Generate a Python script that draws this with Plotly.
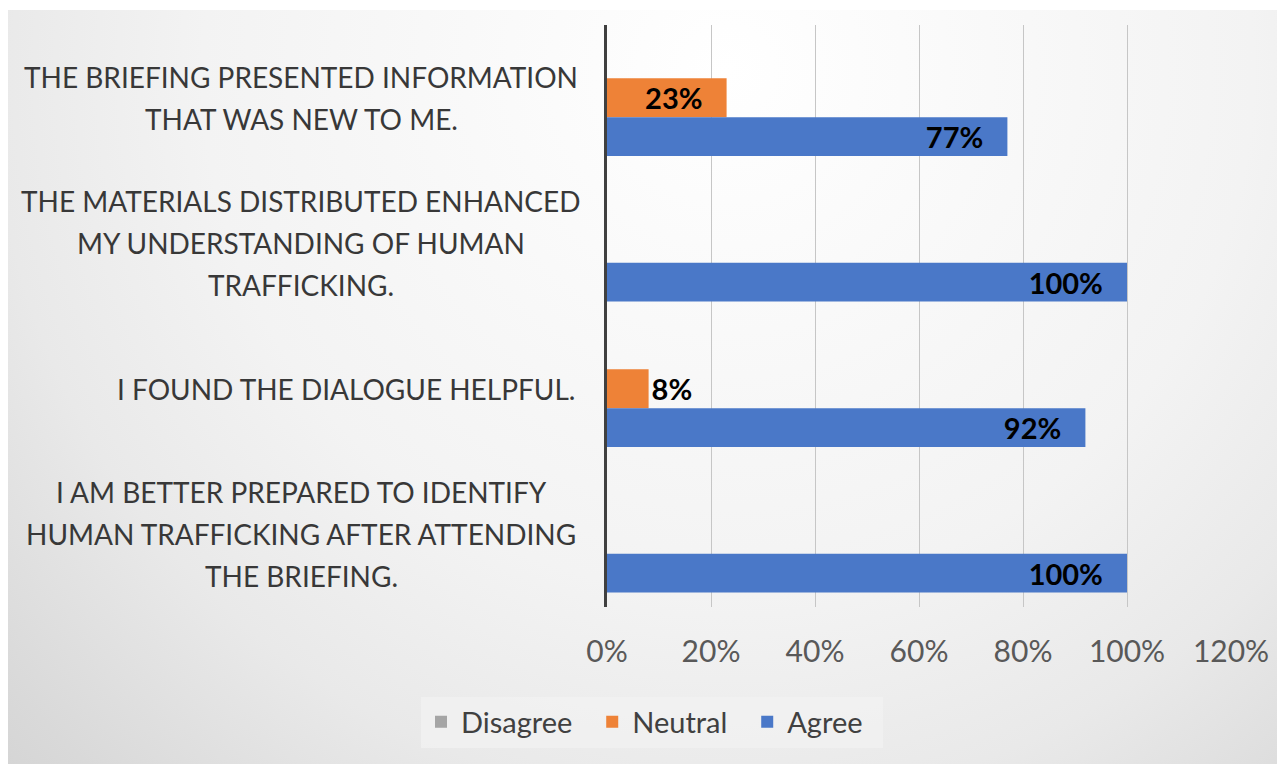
import base64
import plotly.graph_objects as go

# ---- data (categories listed top to bottom as displayed) ----
categories = [
    "THE BRIEFING PRESENTED INFORMATION<br>THAT WAS NEW TO ME.",
    "THE MATERIALS DISTRIBUTED ENHANCED<br>MY UNDERSTANDING OF HUMAN<br>TRAFFICKING.",
    "I FOUND THE DIALOGUE HELPFUL.",
    "I AM BETTER PREPARED TO IDENTIFY<br>HUMAN TRAFFICKING AFTER ATTENDING<br>THE BRIEFING.",
]
disagree = [0.0, 0.0, 0.0, 0.0]
neutral = [0.23, 0.0, 0.08, 0.0]
agree = [0.77, 1.00, 0.92, 1.00]
series_names = ["Disagree", "Neutral", "Agree"]
x_tickvals = [0, 0.2, 0.4, 0.6, 0.8, 1.0, 1.2]
x_ticktext = ["0%", "20%", "40%", "60%", "80%", "100%", "120%"]

# ---- styling / layout constants ----
OFF = 8                      # page body margin of the html page
W, H = 1285 - OFF, 764 - OFF
PL, PR, PT, PB = 607 - OFF, 1231 - OFF, 25 - OFF, 607 - OFF   # plot area in figure px
ML, MR, MT, MB = PL, W - PR, PT, H - PB
FONT = "Lato"
colors = {"Disagree": "#A5A5A5", "Neutral": "#EE8237", "Agree": "#4A78C8"}
NB = "\u00a0"
LBL_SIZE = 29


def labels(vals):
    return [(f"{round(v*100)}%" + (NB * 3 if v >= 0.15 else "")) if v > 0 else ""
            for v in vals]


def positions(vals):
    return ["inside" if v >= 0.15 else "outside" for v in vals]


fig = go.Figure()
for name, vals in zip(series_names, [disagree, neutral, agree]):
    fig.add_trace(go.Bar(
        y=categories, x=vals, name=name + NB * 2, orientation="h",
        marker=dict(color=colors[name], line=dict(width=0)),
        text=labels(vals), textposition=positions(vals), insidetextanchor="end",
        textfont=dict(family=FONT, size=LBL_SIZE, color="#000000", weight="bold"),
        constraintext="none", cliponaxis=False,
    ))

# category labels as text, line by line, centered per block
pw = PR - PL
ph = PB - PT
LINE = 42
for cat in categories:
    lines = cat.split("<br>")
    n = len(lines)
    for i, ln in enumerate(lines):
        if n == 1:
            xa, xs = "right", -30
        else:
            xa, xs = "center", -(30 + 276)
        fig.add_annotation(
            x=0, xref="paper", y=cat, yref="y", text=ln, showarrow=False,
            xanchor=xa, xshift=xs, yanchor="middle",
            yshift=-(i - (n - 1) / 2) * LINE,
            font=dict(family=FONT, size=28, color="#383838"),
        )

# gradient background image (gray chart area with lighter centre)
bx0, by0, bx1, by1 = 0, 10 - OFF, W, H
bw, bh = bx1 - bx0, by1 - by0
svg = f'''<svg xmlns="http://www.w3.org/2000/svg" width="{bw}" height="{bh}" viewBox="0 0 {bw} {bh}" preserveAspectRatio="none">
<defs><radialGradient id="g" cx="720" cy="60" r="1050" gradientUnits="userSpaceOnUse">
<stop offset="0" stop-color="#ffffff"/><stop offset="0.5" stop-color="#f3f3f3"/>
<stop offset="0.7" stop-color="#e9e9e9"/><stop offset="0.9" stop-color="#d9d9d9"/>
<stop offset="1" stop-color="#d2d2d2"/>
</radialGradient></defs><rect width="{bw}" height="{bh}" fill="url(#g)"/></svg>'''
src = "data:image/svg+xml;base64," + base64.b64encode(svg.encode()).decode()
fig.add_layout_image(
    source=src, xref="paper", yref="paper",
    x=(bx0 - PL) / pw, y=(PB - by0) / ph,
    sizex=bw / pw, sizey=bh / ph,
    xanchor="left", yanchor="top", sizing="stretch", layer="below",
)

fig.update_layout(
    width=W, height=H,
    margin=dict(l=ML, r=MR, t=MT, b=MB, pad=0),
    paper_bgcolor="#ffffff", plot_bgcolor="rgba(0,0,0,0)",
    barmode="group", bargap=0.2, bargroupgap=0,
    uniformtext=dict(minsize=LBL_SIZE, mode="show"),
    showlegend=True,
    legend=dict(
        orientation="h", x=(652 - OFF - PL) / pw, xanchor="center",
        y=(PB - (722 - OFF)) / ph, yanchor="middle",
        bgcolor="rgba(242,242,242,0.75)", borderwidth=0,
        font=dict(family=FONT, size=29, color="#404040"),
    ),
    xaxis=dict(
        range=[0, 1.2], tickvals=x_tickvals, ticktext=x_ticktext,
        showgrid=True, gridcolor="#c6c6c6", gridwidth=1, zeroline=False,
        ticks="outside", ticklen=18, tickcolor="rgba(0,0,0,0)",
        tickfont=dict(family=FONT, size=30, color="#595959"),
        showline=False, fixedrange=True,
    ),
    yaxis=dict(
        autorange="reversed", showticklabels=False, showgrid=False,
        showline=True, linecolor="#404040", linewidth=3, zeroline=False,
        ticks="", fixedrange=True,
    ),
)

fig.write_html("out.html")
